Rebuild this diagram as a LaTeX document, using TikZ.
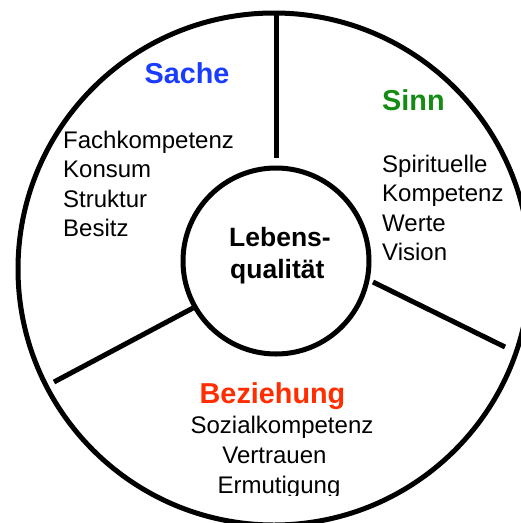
\documentclass[tikz,border=0pt]{standalone}
\usepackage{fontspec}
\setmainfont{Liberation Sans}
\definecolor{lqBlue}{RGB}{25,60,255}
\definecolor{lqGreen}{RGB}{20,140,20}
\definecolor{lqRed}{RGB}{255,45,0}

\begin{document}
\begin{tikzpicture}[
	x=1pt,y=-1pt,
	ring/.style={
		draw,
		circle,
		line width=5pt,
		inner sep=0pt
	},
	spoke/.style={line width=5pt},
	head/.style={font=\fontsize{28.8}{34}\selectfont\bfseries,inner sep=0pt},
	item/.style={font=\fontsize{24}{29.5}\selectfont,inner sep=0pt},
	hubtext/.style={font=\fontsize{26.5}{31.5}\selectfont\bfseries,inner sep=0pt,anchor=base west}
	]
	\useasboundingbox (0,0) rectangle (521,523);
	\clip (0,0) rectangle (521,523);
	
	\node[ring,minimum size=512pt](rim) at (274,269){};
	\node[ring,minimum size=186pt](lq) at (276,261){};
	\node[hubtext](lqa) at (229,246.7){Lebens-};
	\node[hubtext](lqb) at (230,278.3){qualität};
	
	% spokes between hub and rim
	\coordinate (topin) at (276,158);
	\coordinate (topout) at (276,14);
	\coordinate (rgtin) at (373,282);
	\coordinate (rgtout) at (505,347);
	\coordinate (lftin) at (193,308);
	\coordinate (lftout) at (54,382);
	\foreach \a/\b in {topin/topout,rgtin/rgtout,lftin/lftout}
		\draw[spoke] (\a) -- (\b);
	
	\node[head,text=lqBlue,anchor=base](sache) at (187,83.3){Sache};
	\foreach \w [count=\i from 0] in {Fachkompetenz,Konsum,Struktur,Besitz}
		\node[item,anchor=base west](sache\i) at (63,{148.3+29.5*\i}){\w};
	
	\node[head,text=lqGreen,anchor=base west](sinn) at (382,110){Sinn};
	\foreach \w [count=\i from 0] in {Spirituelle,Kompetenz,Werte,Vision}
		\node[item,anchor=base west](sinn\i) at (382,{172.7+29.2*\i}){\w};
	
	\node[head,text=lqRed,anchor=base](bez) at (272.5,403.3){Beziehung};
	\begin{scope}
		\clip (0,0) rectangle (521,495);
		\foreach \x/\w [count=\i from 0] in {282/Sozialkompetenz,274.5/Vertrauen,279/Ermutigung}
			\node[item,anchor=base](bez\i) at (\x,{433.5+30*\i}){\w};
	\end{scope}
\end{tikzpicture}
\end{document}
